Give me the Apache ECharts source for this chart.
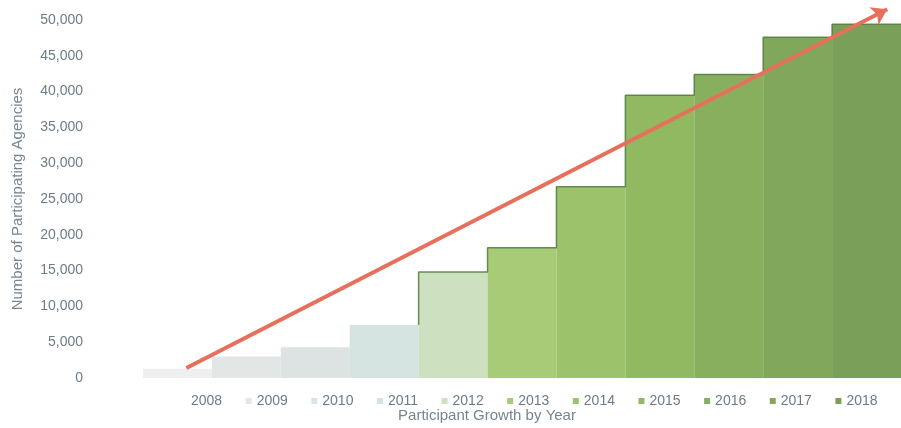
<!DOCTYPE html>
<html>
<head>
<meta charset="utf-8">
<script src="https://cdn.jsdelivr.net/npm/echarts@6/dist/echarts.min.js"></script>
<style>html,body{margin:0;padding:0;background:#fff;}#c{width:901px;height:428px;}</style>
</head>
<body>
<div id="c"></div>
<script>
const years = ['2008','2009','2010','2011','2012','2013','2014','2015','2016','2017','2018'];
const agencies = [1300, 3000, 4300, 7400, 14800, 18200, 26700, 39500, 42400, 47600, 49400];
const barColors = ['#eef0f0','#e3e6e6','#dde3e3','#d4e3df','#cde0bf','#a8cb78','#9cc36b','#90b962','#88af5d','#81a75b','#7a9f58'];
const trendStart = [0.63, 1400];
const trendEnd = [10.8, 51500];

const chart = echarts.init(document.getElementById('c'));
const fmt = v => v === 0 ? '0' : String(v).replace(/\B(?=(\d{3})+(?!\d))/g, ',');

const series = years.map((y, i) => ({
  name: y,
  type: 'bar',
  xAxisIndex: 0,
  yAxisIndex: 0,
  barGap: '-100%',
  barCategoryGap: 0,
  barWidth: '100%',
  itemStyle: { color: barColors[i] },
  data: years.map((_, j) => j === i ? agencies[i] : '-')
}));

// darker step outline along the tops of the green bars (derived from the data)
const outline = [[4, agencies[3]]];
for (let i = 4; i < agencies.length; i++) outline.push([i, agencies[i]]);
outline.push([agencies.length, agencies[agencies.length - 1]]);
series.push({
  name: 'outline',
  type: 'line',
  xAxisIndex: 1,
  yAxisIndex: 0,
  step: 'end',
  symbol: 'none',
  clip: false,
  z: 3,
  lineStyle: { color: '#4f7c3c', width: 1.5, opacity: 0.85 },
  data: outline
});

series.push({
  name: 'trend',
  type: 'lines',
  coordinateSystem: 'cartesian2d',
  xAxisIndex: 1,
  yAxisIndex: 0,
  silent: true,
  clip: false,
  z: 10,
  symbol: ['none', 'arrow'],
  symbolSize: [14, 15],
  lineStyle: { color: '#e6705b', width: 4, opacity: 1 },
  data: [{ coords: [trendStart, trendEnd] }]
});

chart.setOption({
  animation: false,
  title: {
    text: 'Participant Growth by Year',
    left: 482, top: 403, textAlign: 'center',
    textStyle: { fontFamily: 'Liberation Sans', fontSize: 15, fontWeight: 'normal', color: '#76858f' }
  },
  legend: {
    data: years.map((y, i) => i === 0 ? { name: y, itemStyle: { color: '#ffffff' } } : { name: y }),
    left: 175, top: 389,
    icon: 'rect', itemWidth: 6, itemHeight: 6, itemGap: 23.5,
    textStyle: { fontFamily: 'Liberation Sans', fontSize: 14, color: '#6b7c87' }
  },
  grid: { left: 143, right: -8, top: 20, bottom: 50, containLabel: false },
  xAxis: [
    { type: 'category', data: years, axisLine: { show: false }, axisTick: { show: false }, axisLabel: { show: false } },
    { type: 'value', min: 0, max: 11, show: false }
  ],
  yAxis: {
    type: 'value', min: 0, max: 50000, interval: 5000,
    name: 'Number of Participating Agencies',
    nameLocation: 'middle', nameGap: 118,
    nameTextStyle: { fontFamily: 'Liberation Sans', fontSize: 15, color: '#76858f' },
    axisLine: { show: false }, axisTick: { show: false }, splitLine: { show: false },
    axisLabel: { margin: 60, formatter: fmt, fontFamily: 'Liberation Sans', fontSize: 14, color: '#6b7c87' }
  },
  series: series
});
</script>
</body>
</html>
